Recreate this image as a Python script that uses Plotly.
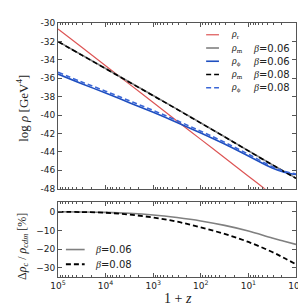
import plotly.graph_objects as go

# ---- data ----
one_plus_z = [1e5, 31623, 1e4, 3162.3, 1e3, 316.23, 100, 31.623, 10, 3.1623, 1.7783, 1]

rho_r        = [-30.64, -32.64, -34.64, -36.64, -38.64, -40.64, -42.64, -44.64, -46.64, -48.64, -49.64, -50.64]
rho_m_b006   = [-32.00, -33.47, -34.94, -36.41, -37.88, -39.35, -40.85, -42.35, -43.87, -45.38, -46.12, -46.85]
rho_phi_b006 = [-35.55, -36.60, -37.60, -38.65, -39.70, -40.80, -41.95, -43.15, -44.45, -45.75, -46.20, -46.45]
rho_m_b008   = [-32.02, -33.49, -34.96, -36.43, -37.90, -39.37, -40.87, -42.37, -43.89, -45.40, -46.14, -46.88]
rho_phi_b008 = [-35.35, -36.40, -37.40, -38.45, -39.50, -40.60, -41.75, -42.95, -44.25, -45.60, -46.10, -46.40]

drho_b006 = [0.0, -0.1, -0.3, -0.8, -1.7, -3.1, -4.9, -7.3, -10.3, -14.1, -15.8, -17.5]
drho_b008 = [0.0, -0.15, -0.5, -1.5, -3.1, -5.3, -8.4, -11.9, -16.2, -21.6, -24.8, -28.2]

x_tickvals = [1e5, 1e4, 1e3, 1e2, 1e1, 1e0]
x_ticktext = ["10<sup>5</sup>", "10<sup>4</sup>", "10<sup>3</sup>", "10<sup>2</sup>", "10<sup>1</sup>", "10<sup>0</sup>"]
top_y_tickvals = [-30, -32, -34, -36, -38, -40, -42, -44, -46, -48]
top_y_ticktext = ["-30", "-32", "-34", "-36", "-38", "-40", "-42", "-44", "-46", "-48"]
bot_y_tickvals = [0, -10, -20, -30]

top_labels = ["<i>ρ</i><sub>r</sub>", "<i>ρ</i><sub>m</sub>", "<i>ρ</i><sub>ϕ</sub>", "<i>ρ</i><sub>m</sub>", "<i>ρ</i><sub>ϕ</sub>"]
top_betas = [None, "0.06", "0.06", "0.08", "0.08"]
bot_betas = ["0.06", "0.08"]

# ---- styles ----
RED = "#dd5555"
GRAY = "#808080"
BLUE = "#1f4fc0"
BLUE_D = "#3a66d6"
DASH = "5px,3px"
SERIF = "Liberation Serif"
SANS = "DejaVu Sans"
SPINE = "#555555"
TXT = "#222222"

top_styles = [dict(color=RED, width=1.2), dict(color=GRAY, width=1.6), dict(color=BLUE, width=1.6),
              dict(color="black", width=1.6, dash=DASH), dict(color=BLUE_D, width=1.6, dash=DASH)]
bot_styles = [dict(color=GRAY, width=1.6), dict(color="black", width=1.8, dash=DASH)]

W, H = 306, 308
L, R, T, B = 50, 15, 10, 39
PW, PH = W - L - R, H - T - B

def px(x):
    return (x - L) / PW

def py(y):
    return 1 - (y - T) / PH

minor_vals = [m * 10 ** e for e in range(0, 5) for m in range(2, 10)]

fig = go.Figure()

top_series = [rho_r, rho_m_b006, rho_phi_b006, rho_m_b008, rho_phi_b008]
for ys, st in zip(top_series, top_styles):
    fig.add_trace(go.Scatter(x=one_plus_z, y=ys, xaxis="x2", yaxis="y2", mode="lines",
                             line_shape="spline", line=st, showlegend=False))
for ys, st in zip([drho_b006, drho_b008], bot_styles):
    fig.add_trace(go.Scatter(x=one_plus_z, y=ys, xaxis="x", yaxis="y", mode="lines",
                             line_shape="spline", line=st, showlegend=False))

axis_common = dict(showline=True, linecolor=SPINE, linewidth=1, mirror="ticks", ticks="inside",
                   tickcolor=SPINE, showgrid=False, zeroline=False,
                   tickfont=dict(family=SANS, size=9, color=TXT))

xcommon = dict(type="log", range=[5, 0], tickmode="array", tickvals=x_tickvals, ticklen=4,
               minor=dict(tickmode="array", tickvals=minor_vals, ticks="inside", ticklen=2, tickcolor=SPINE),
               **axis_common)

top_dom = [(269 - 179) / PH, 1.0]
bot_dom = [0.0, (269 - 193) / PH]

shapes = []
annotations = []

# manual legend, top panel
top_rows = [22, 35.5, 49, 62.5, 76]
for lab, beta, st, yrow in zip(top_labels, top_betas, top_styles, top_rows):
    shapes.append(dict(type="line", xref="paper", yref="paper", x0=px(200), x1=px(213), y0=py(yrow), y1=py(yrow),
                       line=st))
    annotations.append(dict(text=lab, x=px(223), y=py(yrow), xref="paper", yref="paper", showarrow=False,
                            xanchor="left", yanchor="middle", font=dict(family=SERIF, size=10, color=TXT)))
    if beta is not None:
        annotations.append(dict(text=f"<i>β</i><span style='font-family:{SANS}'>=" + beta + "</span>",
                                x=px(245), y=py(yrow), xref="paper", yref="paper", showarrow=False,
                                xanchor="left", yanchor="middle", font=dict(family=SERIF, size=10, color=TXT)))

# manual legend, bottom panel
bot_rows = [241, 256]
for beta, st, yrow in zip(bot_betas, bot_styles, bot_rows):
    shapes.append(dict(type="line", xref="paper", yref="paper", x0=px(58), x1=px(77), y0=py(yrow), y1=py(yrow),
                       line=st))
    annotations.append(dict(text=f"<i>β</i><span style='font-family:{SANS}'>=" + beta + "</span>",
                            x=px(85), y=py(yrow), xref="paper", yref="paper", showarrow=False,
                            xanchor="left", yanchor="middle", font=dict(family=SERIF, size=10, color=TXT)))

# axis titles
annotations += [
    dict(text="log <i>ρ</i> [GeV<sup>4</sup>]", x=px(14), y=py(97), xref="paper", yref="paper", showarrow=False,
         xanchor="center", yanchor="middle", textangle=-90, font=dict(family=SERIF, size=13, color=TXT)),
    dict(text="Δ<i>ρ</i><sub><i>c</i></sub> / <i>ρ</i><sub><i>cdm</i></sub> [%]", x=px(14), y=py(238),
         xref="paper", yref="paper", showarrow=False, xanchor="center", yanchor="middle", textangle=-90,
         font=dict(family=SERIF, size=12, color=TXT)),
    dict(text="1 + <i>z</i>", x=px(172), y=py(291), xref="paper", yref="paper", showarrow=False,
         xanchor="center", yanchor="middle", font=dict(family=SERIF, size=14, color=TXT)),
]

fig.update_layout(
    width=W, height=H,
    margin=dict(l=L, r=R, t=T, b=B),
    paper_bgcolor="white", plot_bgcolor="white",
    showlegend=False,
    xaxis=dict(domain=[0, 1], anchor="y", ticktext=x_ticktext, **xcommon),
    xaxis2=dict(domain=[0, 1], anchor="y2", matches="x", showticklabels=False, ticktext=x_ticktext, **xcommon),
    yaxis=dict(domain=bot_dom, anchor="x", range=[-35, 5], tickmode="array", tickvals=bot_y_tickvals,
               ticklen=4, **axis_common),
    yaxis2=dict(domain=top_dom, anchor="x2", range=[-48, -30], tickmode="array", tickvals=top_y_tickvals,
                ticktext=top_y_ticktext, ticklen=4, **axis_common),
    shapes=shapes,
    annotations=annotations,
)

fig.write_html("out.html")
